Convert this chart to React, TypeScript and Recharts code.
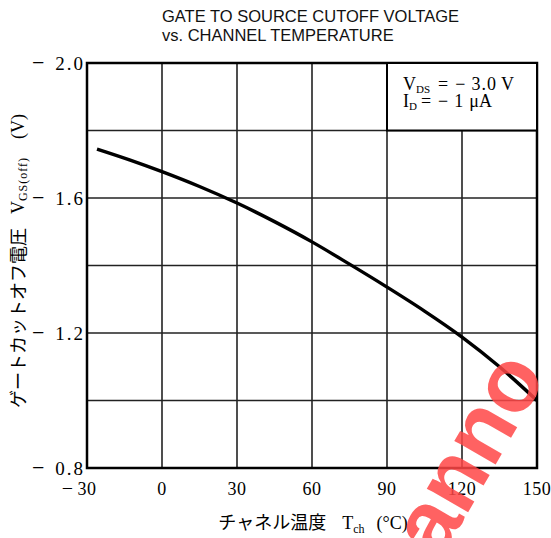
import React from 'react';
import { LineChart, Line, XAxis, YAxis, CartesianGrid, ReferenceArea, Label } from 'recharts';

// channel temperature (°C) vs |VGS(off)| (V)
const temps = [-26, -13, 0, 15, 30, 45, 60, 75, 90, 105, 120, 135, 150];
const vgsOff = [1.745, 1.713, 1.678, 1.634, 1.585, 1.53, 1.47, 1.404, 1.336, 1.265, 1.188, 1.1, 1.0];

const xTicks = [-30, 0, 30, 60, 90, 120, 150];
const xTickLabels = ['− 30', '0', '30', '60', '90', '120', '150'];
const yTicks = [0.8, 1.0, 1.2, 1.4, 1.6, 1.8, 2.0];
const yLabelled = [0.8, 1.2, 1.6, 2.0];
const yTickLabels = ['− 0.8', '− 1.2', '− 1.6', '− 2.0'];

const titleLines = ['GATE TO SOURCE CUTOFF VOLTAGE', 'vs. CHANNEL TEMPERATURE'];

const data = temps.map((t, i) => ({ t, v: vgsOff[i] }));

const serif = '"Liberation Serif", "DejaVu Serif", serif';
const cjk = '"Noto Sans CJK JP", "Noto Sans", sans-serif';

const XTick = (props: any) => {
  const { x, y, payload } = props;
  const idx = xTicks.indexOf(payload.value);
  const label = idx >= 0 ? xTickLabels[idx] : '';
  const parts = label.split(' ');
  const num = parts[parts.length - 1];
  return (
    <g>
      {parts.length > 1 && (
        <text x={x - 14} y={y + 19} textAnchor="end" fontFamily={serif} fontSize={20} fill="#000">
          {parts[0]}
        </text>
      )}
      <text x={x} y={y + 19} textAnchor="middle" fontFamily={serif} fontSize={18} letterSpacing={0.5} fill="#000">
        {num}
      </text>
    </g>
  );
};

const YTick = (props: any) => {
  const { x, y, payload } = props;
  const idx = yLabelled.findIndex((v) => Math.abs(v - payload.value) < 1e-6);
  if (idx < 0) return null;
  const parts = yTickLabels[idx].split(' ');
  return (
    <g fontFamily={serif} fill="#000">
      <text x={x - 53} y={y + 7} textAnchor="start" fontSize={22}>
        {parts[0]}
      </text>
      <text x={x} y={y + 7} textAnchor="end" fontSize={19} letterSpacing={2}>
        {parts[1]}
      </text>
    </g>
  );
};

const YTitle = () => (
  <text
    x={20}
    y={261}
    transform="rotate(-90, 20, 261)"
    textAnchor="middle"
    dominantBaseline="middle"
    fontSize={18}
    fill="#000"
  >
    <tspan fontFamily={cjk}>ゲートカットオフ電圧</tspan>
    <tspan fontFamily={serif} dx={14}>V</tspan>
    <tspan fontFamily={serif} fontSize={12} dy={4} letterSpacing={1}>GS(off)</tspan>
    <tspan fontFamily={serif} dy={-4} dx={18}>(V)</tspan>
  </text>
);

const XTitle = () => (
  <text x={313} y={529} textAnchor="middle" fontSize={18} fill="#000">
    <tspan fontFamily={cjk}>チャネル温度</tspan>
    <tspan fontFamily={serif} dx={16}>T</tspan>
    <tspan fontFamily={serif} fontSize={12} dy={4}>ch</tspan>
    <tspan fontFamily={serif} dy={-4} dx={12}>(°C)</tspan>
  </text>
);

const Conditions = (props: any) => {
  const { viewBox } = props;
  const x0 = viewBox.x + 16;
  const y0 = viewBox.y;
  return (
    <g fontFamily={serif} fontSize={18} fill="#000">
      <text x={x0} y={y0 + 27}>
        <tspan>V</tspan>
        <tspan fontSize={11} dy={3}>DS</tspan>
        <tspan dy={-3} dx={8}>=</tspan>
        <tspan dx={7}>−</tspan>
        <tspan dx={6} letterSpacing={1}>3.0</tspan>
        <tspan dx={4}>V</tspan>
      </text>
      <text x={x0} y={y0 + 44}>
        <tspan>I</tspan>
        <tspan fontSize={11} dy={3}>D</tspan>
        <tspan dy={-3} dx={4}>=</tspan>
        <tspan dx={7}>−</tspan>
        <tspan dx={6}>1</tspan>
        <tspan dx={6}>μA</tspan>
      </text>
    </g>
  );
};

export default function App() {
  return (
    <div style={{ position: 'absolute', left: 0, top: 0, width: 551, height: 538, background: '#fff', overflow: 'hidden' }}>
      <div
        style={{
          position: 'absolute',
          left: 162,
          top: 7,
          fontFamily: '"Liberation Sans Narrow", "Liberation Sans", Arial, sans-serif',
          fontSize: 16.5,
          lineHeight: '19px',
          color: '#111',
          whiteSpace: 'pre',
        }}
      >
        {titleLines.map((l) => (
          <div key={l}>{l}</div>
        ))}
      </div>
      <div style={{ position: 'absolute', left: 0, top: 0 }}>
        <LineChart width={551} height={538} data={data} margin={{ top: 63, right: 14, bottom: 0, left: 0 }}>
          <CartesianGrid stroke="#222" strokeWidth={1.6} />
          <XAxis
            dataKey="t"
            type="number"
            domain={[-30, 150]}
            ticks={xTicks}
            tick={<XTick />}
            tickLine={false}
            axisLine={false}
            height={70}
            interval={0}
          >
            <Label content={<XTitle />} />
          </XAxis>
          <YAxis
            type="number"
            domain={[0.8, 2.0]}
            ticks={yTicks}
            tick={<YTick />}
            tickLine={false}
            tickSize={0}
            tickMargin={2}
            axisLine={false}
            width={87}
            interval={0}
          >
            <Label content={<YTitle />} />
          </YAxis>
          <ReferenceArea x1={-30} x2={150} y1={0.8} y2={2.0} fill="none" stroke="#000" strokeWidth={2.5} ifOverflow="extendDomain" />
          <ReferenceArea
            x1={90}
            x2={150}
            y1={1.8}
            y2={2.0}
            fill="#fff"
            fillOpacity={1}
            stroke="#000"
            strokeWidth={2}
            label={<Conditions />}
          />
          <Line
            type="monotone"
            dataKey="v"
            stroke="#000"
            strokeWidth={3.4}
            dot={false}
            isAnimationActive={false}
          />
        </LineChart>
      </div>
      <div
        style={{
          position: 'absolute',
          left: 452,
          top: 478,
          transform: 'rotate(-60deg)',
          transformOrigin: '0 100%',
          fontFamily: '"Liberation Sans", Arial, sans-serif',
          fontWeight: 'bold',
          fontSize: 90,
          lineHeight: '90px',
          color: 'rgba(255, 70, 70, 0.85)',
          pointerEvents: 'none',
          whiteSpace: 'pre',
        }}
      >
        anno
      </div>
    </div>
  );
}
